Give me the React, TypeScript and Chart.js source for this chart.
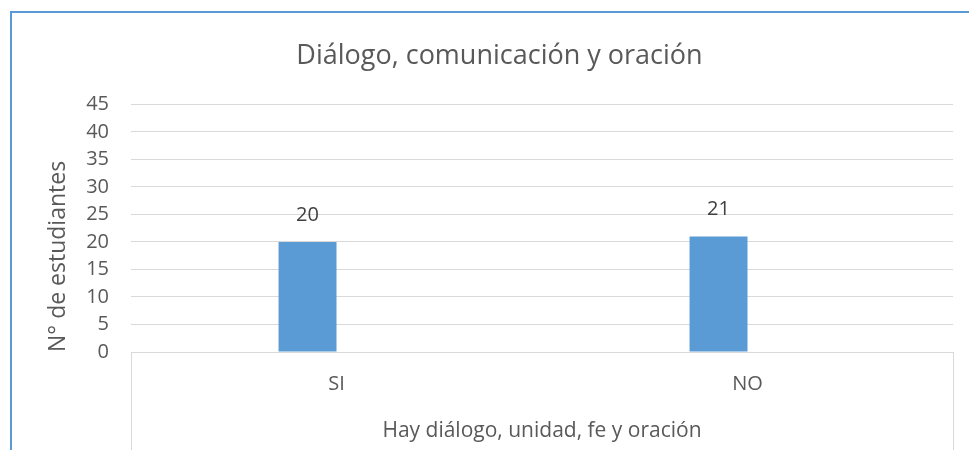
import React, { useEffect, useRef } from "react";
import { Chart, registerables } from "chart.js";

Chart.register(...registerables);

const categories = ["SI", "NO"];
const seriesValues = [20, 21];
const emptySeries = [null, null];
const yTicksMax = 45;
const yTicksStep = 5;
const chartTitle = "Diálogo, comunicación y oración";
const xAxisTitle = "Hay diálogo, unidad, fe y oración";
const yAxisTitle = "N° de estudiantes";

const FONT = "'Open Sans', 'Noto Sans', sans-serif";
const TEXT = "#595959";
const GRID = "#D9D9D9";

const valueLabels = {
  id: "valueLabels",
  afterDatasetsDraw(chart: any) {
    const ctx = chart.ctx;
    const meta = chart.getDatasetMeta(0);
    ctx.save();
    ctx.font = `20px ${FONT}`;
    ctx.fillStyle = "#404040";
    ctx.textAlign = "center";
    ctx.textBaseline = "middle";
    meta.data.forEach((el: any, i: number) => {
      const v = chart.data.datasets[0].data[i];
      if (v == null) return;
      ctx.fillText(String(v), el.x, el.y - 27);
    });
    ctx.restore();
  },
};

const categoryFrame = {
  id: "categoryFrame",
  afterDraw(chart: any) {
    const { ctx, chartArea } = chart;
    ctx.save();
    ctx.strokeStyle = GRID;
    ctx.lineWidth = 1;
    [chartArea.left, chartArea.right].forEach((x: number) => {
      const px = Math.round(x) + 0.5;
      ctx.beginPath();
      ctx.moveTo(px, chartArea.bottom);
      ctx.lineTo(px, chart.height);
      ctx.stroke();
    });
    ctx.restore();
  },
};

export default function App() {
  const ref = useRef<HTMLCanvasElement>(null);

  useEffect(() => {
    if (!ref.current) return;
    const chart = new Chart(ref.current, {
      type: "bar",
      data: {
        labels: categories,
        datasets: [
          { data: seriesValues, backgroundColor: "#5B9BD5", borderWidth: 0 },
          { data: emptySeries as any, backgroundColor: "#ED7D31", borderWidth: 0 },
        ],
      },
      options: {
        animation: false,
        responsive: false,
        maintainAspectRatio: false,
        layout: { padding: { left: 36, right: 36, top: 0, bottom: 0 } },
        datasets: { bar: { categoryPercentage: 0.282, barPercentage: 1 } },
        plugins: {
          legend: { display: false },
          tooltip: { enabled: false },
          title: {
            display: true,
            text: chartTitle,
            color: TEXT,
            font: { family: FONT, size: 27, weight: "normal" as any },
            padding: { top: 40, bottom: 32 },
          },
        },
        scales: {
          x: {
            grid: { display: false, drawTicks: false },
            border: { display: false },
            ticks: {
              color: TEXT,
              font: { family: FONT, size: 20 },
              padding: 20,
            },
            title: {
              display: true,
              text: xAxisTitle,
              color: TEXT,
              font: { family: FONT, size: 21 },
              padding: { top: 0, bottom: 6 },
            },
            afterFit(scale: any) {
              scale.height = 98;
            },
          },
          y: {
            min: 0,
            max: yTicksMax,
            grid: { color: GRID, lineWidth: 1, drawTicks: false },
            border: { display: false },
            ticks: {
              stepSize: yTicksStep,
              autoSkip: false,
              color: TEXT,
              font: { family: FONT, size: 20 },
              padding: 22,
            },
            title: {
              display: true,
              text: yAxisTitle,
              align: "start",
              color: TEXT,
              font: { family: FONT, size: 23, lineHeight: 1 },
              padding: { top: 0.5, bottom: 0 },
            },
            afterFit(scale: any) {
              scale.width = 85;
            },
          },
        },
      },
      plugins: [valueLabels, categoryFrame],
    });
    return () => chart.destroy();
  }, []);

  return (
    <div
      style={{
        position: "fixed",
        left: 0,
        top: 0,
        width: 969,
        height: 450,
        overflow: "hidden",
        background: "#fff",
      }}
    >
      <div
        style={{
          position: "absolute",
          left: 10,
          top: 11,
          width: 1000,
          height: 500,
          border: "2px solid #5B9BD5",
          boxSizing: "border-box",
        }}
      />
      <div style={{ position: "absolute", left: 10, top: 0, width: 979, height: 450 }}>
        <canvas ref={ref} width={979} height={450} style={{ width: 979, height: 450, display: "block" }} />
      </div>
    </div>
  );
}
